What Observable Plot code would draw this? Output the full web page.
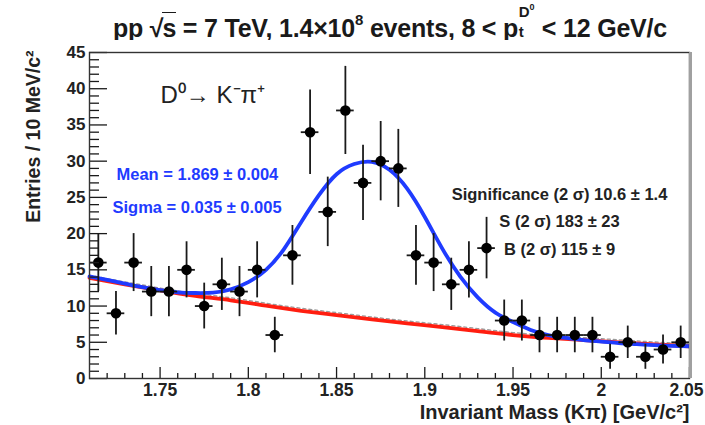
<!DOCTYPE html>
<html><head><meta charset="utf-8">
<script src="https://cdn.jsdelivr.net/npm/d3@7"></script>
<script src="https://cdn.jsdelivr.net/npm/@observablehq/plot@0.6"></script>
<style>
body{margin:0;background:#fff;font-family:"Liberation Sans",Arial,sans-serif;}
#wrap{position:relative;width:705px;height:425px;overflow:hidden;background:#fff}
#title{position:absolute;left:75px;top:12px;width:630px;text-align:center;font-size:25px;font-weight:bold;color:#1a1a1a;white-space:nowrap;line-height:26px;letter-spacing:-0.2px}
#title sup{font-size:0.6em;vertical-align:0.8em;line-height:0}
.ov{border-top:1.8px solid #1a1a1a;padding-top:1px;margin-left:-1px}
.stk{display:inline-block;position:relative;width:0.95em;height:1em;vertical-align:baseline}
.stk .up{position:absolute;left:0.05em;top:-0.55em;font-size:0.6em;line-height:1}
.stk .up sup{font-size:0.7em;vertical-align:0.6em}
.stk .dn{position:absolute;left:0.05em;top:0.8em;font-size:0.6em;line-height:1}
#chart{position:absolute;left:0;top:40px}
</style></head>
<body><div id="wrap">
<div id="title">pp √<span class="ov">s</span> = 7 TeV, 1.4×10<sup>8</sup> events, 8 &lt; p<span class="stk"><span class="up">D<sup>0</sup></span><span class="dn">t</span></span>&lt; 12 GeV/c</div>
<div id="chart"></div>
</div>
<script>
// Histogram: bin centres (GeV/c^2) and entries per 10 MeV/c^2
const massBins = [1.715,1.725,1.735,1.745,1.755,1.765,1.775,1.785,1.795,1.805,1.815,1.825,1.835,1.845,1.855,1.865,1.875,1.885,1.895,1.905,1.915,1.925,1.935,1.945,1.955,1.965,1.975,1.985,1.995,2.005,2.015,2.025,2.035,2.045];
const entries = [16,9,16,12,12,15,10,13,12,15,6,17,34,23,37,27,30,29,17,16,13,15,18,8,8,6,6,6,6,3,5,3,4,5];
const halfBin = 0.005;

// Fit curves
const fitMass = [1.71,1.72,1.73,1.74,1.75,1.76,1.77,1.78,1.79,1.80,1.81,1.82,1.83,1.84,1.85,1.86,1.87,1.88,1.89,1.90,1.91,1.92,1.93,1.94,1.95,1.96,1.97,1.98,1.99,2.00,2.01,2.02,2.03,2.04,2.05];
const fitTotal = [14.1,13.6,13.1,12.6,12.2,11.9,11.8,11.85,12.3,13.3,15.0,17.8,21.6,25.3,28.2,29.6,29.9,28.8,26.2,22.3,17.9,14.1,11.2,9.1,7.8,6.7,6.0,5.6,5.3,5.1,4.9,4.75,4.6,4.5,4.45];
const bgMass = [1.71,1.73,1.75,1.77,1.79,1.81,1.83,1.85,1.87,1.89,1.91,1.93,1.95,1.97,1.99,2.01,2.03,2.05];
const bgFit = [13.9,13.0,12.15,11.4,10.8,10.05,9.35,8.75,8.15,7.6,7.1,6.55,6.0,5.6,5.3,5.0,4.7,4.45];

// Axes
const xDomain = [1.71, 2.05];
const yDomain = [0, 45];
const xTicks = [1.75,1.8,1.85,1.9,1.95,2,2.05];
const xTickLabels = ["1.75","1.8","1.85","1.9","1.95","2","2.05"];
const yTicks = [0,5,10,15,20,25,30,35,40,45];
const yTickLabels = ["0","5","10","15","20","25","30","35","40","45"];
const xMinor = d3.range(172, 205).map(v => v/100).filter(v => !xTicks.some(t => Math.abs(t-v) < 1e-9));
const yMinor = d3.range(1, 45).filter(v => v % 5 !== 0);

const xLabel = "Invariant Mass (Kπ) [GeV/c²]";
const yLabel = "Entries / 10 MeV/c²";
const decay = "D⁰→ K⁻π⁺";
const meanText = "Mean = 1.869 ± 0.004";
const sigmaText = "Sigma = 0.035 ± 0.005";
const statLines = ["Significance (2 σ) 10.6 ± 1.4", "S (2 σ) 183 ± 23", "B (2 σ) 115 ± 9"];

const pts = massBins.map((m,i) => ({m, n: entries[i]}));
const fit = fitMass.map((m,i) => ({m, y: fitTotal[i]}));
const bg = bgMass.map((m,i) => ({m, y: bgFit[i]}));

const W = 705, H = 385, ML = 89, MR = 16, MT = 12, MB = 47;
const innerW = W - ML - MR, innerH = H - MT - MB;
const blue = "#1f3bff", red = "#ff1e10", ink = "#1a1a1a";
const lastTick = xTicks.length - 1;

const chart = Plot.plot({
  width: W, height: H,
  marginLeft: ML, marginRight: MR, marginTop: MT, marginBottom: MB,
  style: {fontFamily: "'Liberation Sans', Arial, sans-serif", fontWeight: "bold", fontSize: "15px", color: ink, overflow: "visible", background: "#fff"},
  x: {domain: xDomain},
  y: {domain: yDomain},
  marks: [
    // fit curves
    Plot.line(bg, {x: "m", y: "y", stroke: "#9a9a9a", strokeWidth: 1.3, strokeDasharray: "3,3", dy: -2.5, curve: "natural"}),
    Plot.line(bg, {x: "m", y: "y", stroke: red, strokeWidth: 3.8, curve: "natural"}),
    Plot.line(fit, {x: "m", y: "y", stroke: blue, strokeWidth: 3.8, curve: "natural"}),
    // data with error bars
    Plot.ruleX(pts, {x: "m", y1: d => d.n - Math.sqrt(d.n), y2: d => d.n + Math.sqrt(d.n), stroke: ink, strokeWidth: 1.8}),
    Plot.ruleY(pts, {y: "n", x1: d => d.m - halfBin, x2: d => d.m + halfBin, stroke: ink, strokeWidth: 1.8}),
    Plot.dot(pts, {x: "m", y: "n", r: 5.3, fill: "#000", stroke: null}),
    // ticks (inside the frame)
    Plot.tickX(xTicks, {x: d => d, insetTop: innerH - 11, stroke: ink, strokeWidth: 1.3}),
    Plot.tickX(xMinor, {x: d => d, insetTop: innerH - 5, stroke: ink, strokeWidth: 1.3}),
    Plot.tickY(yTicks, {y: d => d, insetRight: innerW - 18, stroke: ink, strokeWidth: 1.3}),
    Plot.tickY(yMinor, {y: d => d, insetRight: innerW - 10, stroke: ink, strokeWidth: 1.3}),
    // frame
    Plot.frame({stroke: "#333", strokeWidth: 1.4}),
    Plot.ruleX([xDomain[1]], {stroke: "#a0a0a0", strokeWidth: 3, dx: 1}),
    // tick labels
    Plot.axisX(xTicks.slice(0, lastTick), {tickSize: 0, tickPadding: 5, tickFormat: (d,i) => xTickLabels[i], label: null, fontSize: 17.5, fontWeight: "bold", fill: "#222"}),
    Plot.axisX([xTicks[lastTick]], {tickSize: 0, tickPadding: 5, tickFormat: () => xTickLabels[lastTick], label: null, dx: -3, fontSize: 17.5, fontWeight: "bold", fill: "#222"}),
    Plot.axisY(yTicks, {tickSize: 0, tickPadding: 4, tickFormat: (d,i) => yTickLabels[i], label: null, fontSize: 17, fontWeight: "bold", fill: "#222"}),
    // axis titles
    Plot.text([xLabel], {text: d => d, frameAnchor: "bottom-right", textAnchor: "end", lineAnchor: "middle", dy: 34, fontSize: 20, fontWeight: "bold", fill: "#222"}),
    Plot.text([yLabel], {text: d => d, frameAnchor: "top-left", textAnchor: "end", lineAnchor: "middle", rotate: -90, dx: -56, dy: -2, fontSize: 19.5, fontWeight: "bold", fill: "#222"}),
    // annotations
    Plot.text([decay], {text: d => d, frameAnchor: "top-left", textAnchor: "start", lineAnchor: "middle", dx: 71, dy: 43, fontSize: 24, fontWeight: "normal", fill: "#222"}),
    Plot.text([meanText], {text: d => d, frameAnchor: "top-left", textAnchor: "start", lineAnchor: "middle", dx: 27, dy: 122, fontSize: 16.5, fontWeight: "bold", fill: blue}),
    Plot.text([sigmaText], {text: d => d, frameAnchor: "top-left", textAnchor: "start", lineAnchor: "middle", dx: 23, dy: 155, fontSize: 16.5, fontWeight: "bold", fill: blue}),
    Plot.text([statLines[0]], {text: d => d, frameAnchor: "top-left", textAnchor: "middle", lineAnchor: "middle", dx: 470, dy: 142, fontSize: 16.5, fontWeight: "bold", fill: "#222"}),
    Plot.text([statLines[1]], {text: d => d, frameAnchor: "top-left", textAnchor: "middle", lineAnchor: "middle", dx: 470, dy: 169, fontSize: 16.5, fontWeight: "bold", fill: "#222"}),
    Plot.text([statLines[2]], {text: d => d, frameAnchor: "top-left", textAnchor: "middle", lineAnchor: "middle", dx: 470, dy: 197, fontSize: 16.5, fontWeight: "bold", fill: "#222"})
  ]
});
document.getElementById("chart").appendChild(chart);
</script>
</body></html>
